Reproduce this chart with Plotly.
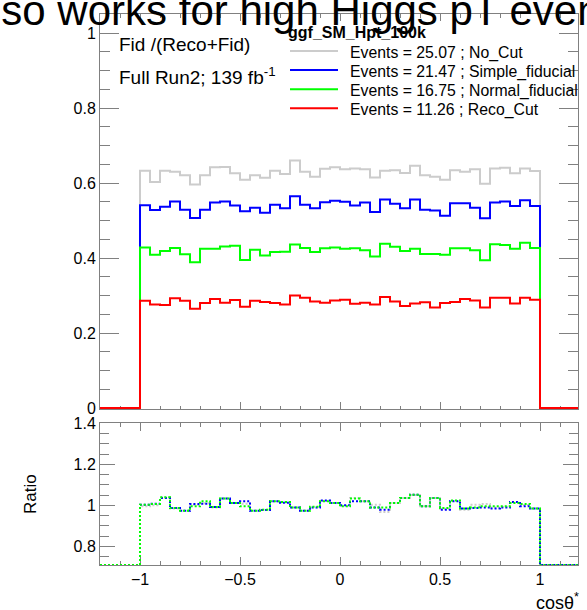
import numpy as np
import plotly.graph_objects as go

# ---------------- data ----------------
bin_lo, bin_hi, bin_w = -1.0, 1.0, 0.05
x_lo, x_hi = -1.2, 1.19

no_cut = [0.633, 0.603, 0.633, 0.630, 0.621, 0.596, 0.621, 0.642, 0.643, 0.626,
          0.609, 0.621, 0.614, 0.633, 0.624, 0.660, 0.630, 0.617, 0.638, 0.642,
          0.637, 0.639, 0.637, 0.615, 0.633, 0.634, 0.627, 0.646, 0.621, 0.617,
          0.609, 0.634, 0.630, 0.637, 0.598, 0.639, 0.641, 0.626, 0.639, 0.632]
simple_fid = [0.541, 0.528, 0.537, 0.551, 0.529, 0.507, 0.529, 0.548, 0.551, 0.540,
              0.525, 0.534, 0.521, 0.542, 0.533, 0.565, 0.542, 0.533, 0.549, 0.553,
              0.550, 0.540, 0.548, 0.523, 0.556, 0.545, 0.533, 0.556, 0.529, 0.527,
              0.513, 0.546, 0.546, 0.534, 0.506, 0.548, 0.551, 0.539, 0.554, 0.539]
normal_fid = [0.428, 0.409, 0.419, 0.427, 0.410, 0.389, 0.425, 0.425, 0.431, 0.433,
              0.395, 0.422, 0.407, 0.416, 0.417, 0.436, 0.427, 0.416, 0.426, 0.428,
              0.425, 0.426, 0.421, 0.404, 0.438, 0.430, 0.419, 0.425, 0.411, 0.411,
              0.409, 0.426, 0.426, 0.421, 0.394, 0.437, 0.435, 0.425, 0.441, 0.427]
reco_cut = [0.286, 0.276, 0.275, 0.293, 0.286, 0.265, 0.280, 0.291, 0.281, 0.288,
            0.270, 0.286, 0.283, 0.280, 0.276, 0.300, 0.294, 0.284, 0.281, 0.287,
            0.289, 0.278, 0.281, 0.276, 0.296, 0.284, 0.272, 0.279, 0.282, 0.268,
            0.280, 0.283, 0.291, 0.287, 0.268, 0.294, 0.294, 0.279, 0.294, 0.289]

ratio_grey = [0.995, 1.000, 1.039, 0.984, 0.974, 1.003, 1.010, 0.990, 1.033, 1.011,
              1.008, 0.974, 0.978, 1.020, 1.014, 0.990, 0.974, 0.991, 1.021, 1.011,
              0.998, 1.036, 1.020, 1.003, 0.967, 1.011, 1.036, 1.050, 0.995, 1.036,
              0.983, 1.021, 0.979, 1.003, 1.007, 0.990, 0.993, 1.013, 1.001, 0.984]
ratio_blue = [1.003, 1.008, 1.036, 0.987, 0.974, 1.007, 1.008, 0.992, 1.033, 1.011,
              1.020, 0.974, 0.977, 1.020, 1.013, 0.990, 0.974, 0.990, 1.023, 1.011,
              1.000, 1.020, 1.020, 0.990, 0.979, 1.011, 1.036, 1.052, 0.995, 1.036,
              0.979, 1.020, 0.984, 0.987, 0.990, 0.984, 0.990, 1.016, 0.995, 0.984]
ratio_green = [1.003, 1.007, 1.039, 0.987, 0.974, 0.995, 1.020, 0.992, 1.033, 1.011,
               0.995, 0.974, 0.979, 1.020, 1.016, 0.990, 0.974, 0.993, 1.020, 1.011,
               0.995, 1.033, 1.020, 0.990, 0.990, 1.011, 1.036, 1.052, 0.995, 1.036,
               0.987, 1.023, 0.984, 0.990, 0.995, 0.995, 0.995, 1.011, 1.007, 0.984]

legend_title = "ggf_SM_Hpt_100k"
legend_names = ["Events = 25.07 ; No_Cut", "Events = 21.47 ; Simple_fiducial",
                "Events = 16.75 ; Normal_fiducial", "Events = 11.26 ; Reco_Cut"]
colors = ["#cccccc", "#0000ff", "#00ff00", "#ff0000"]

x_ticks = [-1, -0.5, 0, 0.5, 1]
x_ticklabels = ["\u22121", "\u22120.5", "0", "0.5", "1"]

top_range = [-0.00267, 1.0507]
bot_range = [0.709, 1.4]

# ---------------- helpers ----------------
n_pad = int(round((bin_lo - x_lo) / bin_w))
edges = np.round(bin_lo + bin_w * np.arange(-n_pad, len(no_cut) + n_pad + 1), 4)


def step_xy(vals, clip=None):
    v = np.concatenate([np.zeros(n_pad), np.asarray(vals, float), np.zeros(n_pad)])
    if clip is not None:
        v = np.clip(v, clip[0], clip[1])
    return edges, np.append(v, v[-1])


W, H = 587, 610
FONT = "Liberation Sans, Arial, Helvetica, sans-serif"
AX = "#808080"


def px(xp):
    return xp / W


def py(yp):
    return 1 - yp / H


fig = go.Figure()

for vals, name, col in zip([no_cut, simple_fid, normal_fid, reco_cut], legend_names, colors):
    xs, ys = step_xy(vals)
    fig.add_trace(go.Scatter(x=xs, y=ys, mode="lines", line=dict(color=col, width=2, shape="hv"),
                             name=name, showlegend=False,
                             xaxis="x", yaxis="y", hoverinfo="skip"))

for vals, col in zip([ratio_grey, ratio_blue, ratio_green], colors[:3]):
    xs, ys = step_xy(vals, clip=bot_range)
    fig.add_trace(go.Scatter(x=xs, y=ys, mode="lines",
                             line=dict(color=col, width=2, shape="hv", dash="2px,2px"),
                             showlegend=False,
                             xaxis="x2", yaxis="y2", hoverinfo="skip"))

xdom = [px(100), px(578)]
top_dom = [py(409), py(14)]
bot_dom = [py(565), py(423.3)]

common_ax = dict(showline=True, linecolor=AX, linewidth=1, mirror="allticks", ticks="inside",
                 tickcolor=AX, tickwidth=1, showgrid=False, zeroline=False, layer="below traces",
                 automargin=False,
                 tickfont=dict(family=FONT, size=16, color="black"))

fig.update_layout(
    width=W, height=H, autosize=False,
    margin=dict(l=0, r=0, t=0, b=0, pad=0, autoexpand=False),
    paper_bgcolor="white", plot_bgcolor="white",
    font=dict(family=FONT, color="black"),
    showlegend=False,
    xaxis=dict(domain=xdom, range=[x_lo, x_hi], anchor="y", showticklabels=False,
               tickmode="array", tickvals=x_ticks, ticklen=7,
               minor=dict(dtick=0.1, tick0=0, ticklen=3.5, ticks="inside", tickcolor=AX),
               **common_ax),
    yaxis=dict(domain=top_dom, range=top_range, anchor="x", tick0=0, dtick=0.2, ticklen=19,
               tickformat="~g",
               minor=dict(dtick=0.05, tick0=0, ticklen=10, ticks="inside", tickcolor=AX),
               **common_ax),
    xaxis2=dict(domain=xdom, range=[x_lo, x_hi], anchor="y2",
                tickmode="array", tickvals=x_ticks, ticktext=x_ticklabels, ticklen=8,
                minor=dict(dtick=0.1, tick0=0, ticklen=4, ticks="inside", tickcolor=AX),
                **common_ax),
    yaxis2=dict(domain=bot_dom, range=bot_range, anchor="x2", tick0=0, dtick=0.2, ticklen=15,
                tickformat="~g",
                minor=dict(dtick=0.05, tick0=0, ticklen=9, ticks="inside", tickcolor=AX),
                **common_ax),
)

ann = [
    dict(text="Also works for high Higgs pT events", x=px(-38), y=py(11), xref="paper", yref="paper",
         xanchor="left", yanchor="middle", showarrow=False, font=dict(family=FONT, size=42, color="black")),
    dict(text="Fid /(Reco+Fid)", x=px(117), y=py(44.5), xref="paper", yref="paper",
         xanchor="left", yanchor="middle", showarrow=False, font=dict(family=FONT, size=19)),
    dict(text="Full Run2; 139 fb<sup>-1</sup>", x=px(117), y=py(75.5), xref="paper", yref="paper",
         xanchor="left", yanchor="middle", showarrow=False, font=dict(family=FONT, size=19)),
    dict(text="Ratio", x=px(30), y=py(494), xref="paper", yref="paper", textangle=-90,
         xanchor="center", yanchor="middle", showarrow=False, font=dict(family=FONT, size=17)),
    dict(text="cos\u03b8<sup>*</sup>", x=px(581), y=py(601), xref="paper", yref="paper",
         xanchor="right", yanchor="middle", showarrow=False, font=dict(family=FONT, size=18)),
    dict(text="<b>" + legend_title + "</b>", x=px(286), y=py(33), xref="paper", yref="paper",
         xanchor="left", yanchor="middle", showarrow=False, font=dict(family=FONT, size=16)),
]

# hand-built legend (ROOT TLegend look): sample line + label per series
shapes = []
row_y = [51, 70, 89.3, 108.3]
for name, col, ry in zip(legend_names, colors, row_y):
    ann.append(dict(text=name, x=px(348), y=py(ry + 2), xref="paper", yref="paper",
                    xanchor="left", yanchor="middle", showarrow=False,
                    font=dict(family=FONT, size=15.8)))
    shapes.append(dict(type="line", xref="paper", yref="paper", x0=px(290), x1=px(338),
                       y0=py(ry), y1=py(ry), line=dict(color=col, width=2)))

fig.update_layout(annotations=ann, shapes=shapes)

fig.write_html("out.html", config={"displayModeBar": False},
               post_script="document.body.style.margin='0';")
